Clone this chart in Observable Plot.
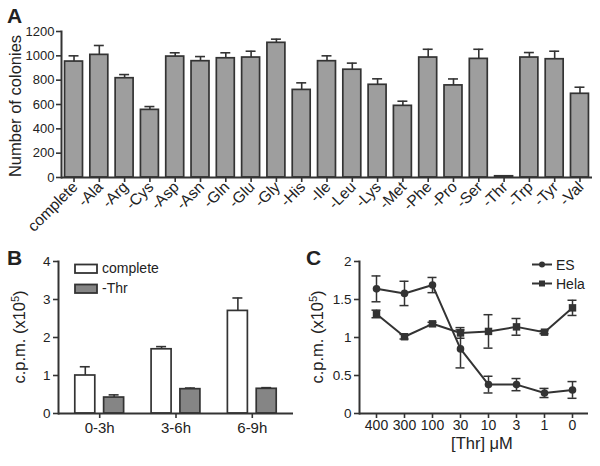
<!DOCTYPE html>
<html>
<head>
<meta charset="utf-8">
<script src="https://cdn.jsdelivr.net/npm/d3@7"></script>
<script src="https://cdn.jsdelivr.net/npm/@observablehq/plot@0.6"></script>
<style>
  html, body { margin: 0; padding: 0; background: #fff; }
  #fig { position: relative; width: 600px; height: 466px; overflow: hidden;
         font-family: "Liberation Sans", Arial, Helvetica, sans-serif; color: #222; }
  #fig > div, #fig > svg { position: absolute; }
</style>
</head>
<body>
<div id="fig">
  <div id="pa" style="left:0;top:0"></div>
  <div id="pb" style="left:0;top:245px"></div>
  <div id="pc" style="left:300px;top:245px"></div>
  <svg id="overlay" width="600" height="466" style="left:0;top:0;pointer-events:none"
       font-family="Liberation Sans, Arial, Helvetica, sans-serif" fill="#222">
    <text x="7" y="23" font-size="21" font-weight="bold">A</text>
    <text x="7" y="265" font-size="21" font-weight="bold">B</text>
    <text x="306" y="265" font-size="21" font-weight="bold">C</text>
    <text transform="translate(21,106) rotate(-90)" text-anchor="middle" font-size="16.5">Number of colonies</text>
    <text transform="translate(25,337) rotate(-90)" text-anchor="middle" font-size="16.5">c.p.m. (x10<tspan font-size="11" dy="-6">5</tspan><tspan dy="6">)</tspan></text>
    <text transform="translate(323,337) rotate(-90)" text-anchor="middle" font-size="16.5">c.p.m. (x10<tspan font-size="11" dy="-6">5</tspan><tspan dy="6">)</tspan></text>
    <text x="482" y="449" text-anchor="middle" font-size="16.5">[Thr] μM</text>
    <!-- legend B -->
    <rect x="75" y="264.5" width="22" height="8.5" fill="#fff" stroke="#333" stroke-width="1.8"></rect>
    <text x="102" y="273" font-size="14">complete</text>
    <rect x="75" y="284.5" width="22" height="8.5" fill="#858585" stroke="#333" stroke-width="1.8"></rect>
    <text x="102" y="293" font-size="14">-Thr</text>
    <!-- legend C -->
    <line x1="532" x2="552" y1="264.5" y2="264.5" stroke="#333" stroke-width="2"></line>
    <circle cx="542" cy="264.5" r="3" fill="#333"></circle>
    <text x="556" y="269.5" font-size="14">ES</text>
    <line x1="532" x2="552" y1="283.5" y2="283.5" stroke="#333" stroke-width="2"></line>
    <rect x="539" y="280.5" width="6" height="6" fill="#333"></rect>
    <text x="556" y="288.5" font-size="14">Hela</text>
  </svg>
</div>
<script>
// ---------- Panel A data ----------
const aaCategories = ["complete","-Ala","-Arg","-Cys","-Asp","-Asn","-Gln","-Glu","-Gly","-His",
  "-Ile","-Leu","-Lys","-Met","-Phe","-Pro","-Ser","-Thr","-Trp","-Tyr","-Val"];
const colonies = [953,1008,816,556,994,956,980,986,1107,720,956,886,762,589,986,757,975,10,986,972,688];
const coloniesErr = [47,77,30,27,31,38,45,52,30,58,44,54,49,38,68,53,79,4,41,66,54];
const aTicks = [0,200,400,600,800,1000,1200];

// ---------- Panel B data ----------
const periods = ["0-3h","3-6h","6-9h"];
const completeCpm = [1.00,1.69,2.70];
const completeErr = [0.23,0.07,0.34];
const thrCpm = [0.42,0.64,0.65];
const thrErr = [0.07,0.03,0.03];
const bTicks = [0,1,2,3,4];

// ---------- Panel C data ----------
const thrConc = ["400","300","100","30","10","3","1","0"];
const esCpm = [1.64,1.58,1.69,0.85,0.38,0.38,0.27,0.31];
const esErr = [0.17,0.16,0.10,0.25,0.11,0.08,0.06,0.11];
const helaCpm = [1.31,1.01,1.18,1.06,1.08,1.14,1.07,1.39];
const helaErr = [0.05,0.03,0.02,0.07,0.22,0.11,0.02,0.10];
const cTicks = [0,0.5,1,1.5,2];

const FONT = "Liberation Sans, Arial, Helvetica, sans-serif";
const INK = "#333";
const plain = d => String(d);

// ---------- Panel A ----------
const dataA = aaCategories.map((c, i) => ({cat: c, v: colonies[i], e: coloniesErr[i]}));
const plotA = Plot.plot({
  width: 600, height: 240,
  marginLeft: 61, marginRight: 8, marginTop: 31, marginBottom: 63,
  style: {fontFamily: FONT, color: "#222", background: "transparent", overflow: "visible"},
  x: {type: "band", domain: aaCategories, paddingInner: 0.29, paddingOuter: 0.14, round: false, label: null},
  y: {domain: [0, 1200], label: null},
  marks: [
    Plot.ruleX(dataA, {x: "cat", y1: "v", y2: d => d.v + d.e, stroke: INK, strokeWidth: 1.6}),
    Plot.tickY(dataA, {x: "cat", y: d => d.v + d.e, stroke: INK, strokeWidth: 1.6, insetLeft: 4, insetRight: 4}),
    Plot.barY(dataA, {x: "cat", y: "v", fill: "#9e9e9e", stroke: INK, strokeWidth: 1.7}),
    Plot.axisY({ticks: aTicks, tickFormat: plain, tickSize: 5, tickPadding: 2, fontSize: 13, stroke: INK, strokeWidth: 1.6, label: null}),
    Plot.axisX({tickSize: 5, tickFormat: () => "", stroke: INK, strokeWidth: 1.6, label: null}),
    Plot.text(aaCategories, {x: d => d, text: d => d, frameAnchor: "bottom", dy: 7, dx: 1, rotate: -45,
      textAnchor: "end", lineAnchor: "middle", fontSize: 15.5, fill: "#222"}),
    Plot.ruleY([0], {stroke: INK, strokeWidth: 2}),
    Plot.frame({anchor: "left", stroke: INK, strokeWidth: 2})
  ]
});
document.getElementById("pa").appendChild(plotA);

// ---------- Panel B ----------
const dataB = periods.map((p, i) => ({p, c: completeCpm[i], ce: completeErr[i], t: thrCpm[i], te: thrErr[i]}));
const bW = 300, bML = 58, bMR = 7, pIn = 0.36, pOut = 0.22;
const bStep = (bW - bML - bMR) / (periods.length - pIn + 2 * pOut);
const bBand = bStep * (1 - pIn);
const barW = 20;
const off = bBand / 2 - barW / 2;
const plotB = Plot.plot({
  width: bW, height: 221,
  marginLeft: bML, marginRight: bMR, marginTop: 16, marginBottom: 53,
  style: {fontFamily: FONT, color: "#222", background: "transparent", overflow: "visible"},
  x: {type: "band", domain: periods, paddingInner: pIn, paddingOuter: pOut, round: false, label: null},
  y: {domain: [0, 4], label: null},
  marks: [
    Plot.ruleX(dataB, {x: "p", y1: "c", y2: d => d.c + d.ce, dx: -off, stroke: INK, strokeWidth: 1.6}),
    Plot.tickY(dataB, {x: "p", y: d => d.c + d.ce, stroke: INK, strokeWidth: 1.6, insetLeft: 5, insetRight: bBand - 15}),
    Plot.barY(dataB, {x: "p", y: "c", fill: "#fff", stroke: INK, strokeWidth: 1.7, insetRight: bBand - barW}),
    Plot.ruleX(dataB, {x: "p", y1: "t", y2: d => d.t + d.te, dx: off, stroke: INK, strokeWidth: 1.6}),
    Plot.tickY(dataB, {x: "p", y: d => d.t + d.te, stroke: INK, strokeWidth: 1.6, insetLeft: bBand - 15, insetRight: 5}),
    Plot.barY(dataB, {x: "p", y: "t", fill: "#858585", stroke: INK, strokeWidth: 1.7, insetLeft: bBand - barW}),
    Plot.axisY({ticks: bTicks, tickFormat: plain, tickSize: 5, tickPadding: 3, fontSize: 13.5, stroke: INK, strokeWidth: 1.6, label: null}),
    Plot.axisX({tickSize: 5, tickPadding: 4, fontSize: 15, stroke: INK, strokeWidth: 1.6, label: null}),
    Plot.ruleY([0], {stroke: INK, strokeWidth: 2}),
    Plot.frame({anchor: "left", stroke: INK, strokeWidth: 2})
  ]
});
document.getElementById("pb").appendChild(plotB);

// ---------- Panel C ----------
const esData = thrConc.map((x, i) => ({x, v: esCpm[i], e: esErr[i]}));
const helaData = thrConc.map((x, i) => ({x, v: helaCpm[i], e: helaErr[i]}));
function errMarks(data) {
  return [
    Plot.ruleX(data, {x: "x", y1: d => d.v - d.e, y2: d => d.v + d.e, stroke: INK, strokeWidth: 1.5}),
    Plot.ruleY(data, {x1: "x", x2: "x", y: d => d.v + d.e, stroke: INK, strokeWidth: 1.5, insetLeft: -4.5, insetRight: -4.5}),
    Plot.ruleY(data, {x1: "x", x2: "x", y: d => d.v - d.e, stroke: INK, strokeWidth: 1.5, insetLeft: -4.5, insetRight: -4.5})
  ];
}
const plotC = Plot.plot({
  width: 300, height: 221,
  marginLeft: 59, marginRight: 12, marginTop: 16, marginBottom: 53,
  style: {fontFamily: FONT, color: "#222", background: "transparent", overflow: "visible"},
  x: {type: "point", domain: thrConc, padding: 0.52, label: null},
  y: {domain: [0, 2], label: null},
  marks: [
    ...errMarks(esData),
    ...errMarks(helaData),
    Plot.line(esData, {x: "x", y: "v", stroke: INK, strokeWidth: 2}),
    Plot.line(helaData, {x: "x", y: "v", stroke: INK, strokeWidth: 2}),
    Plot.dot(esData, {x: "x", y: "v", r: 3.8, fill: INK, stroke: "none"}),
    Plot.dot(helaData, {x: "x", y: "v", r: 4.2, symbol: "square", fill: INK, stroke: "none"}),
    Plot.axisY({ticks: cTicks, tickFormat: plain, tickSize: 5, tickPadding: 3, fontSize: 13.5, stroke: INK, strokeWidth: 1.6, label: null}),
    Plot.axisX({tickSize: 5, tickPadding: 2, fontSize: 14, stroke: INK, strokeWidth: 1.6, label: null}),
    Plot.ruleY([0], {stroke: INK, strokeWidth: 2}),
    Plot.frame({anchor: "left", stroke: INK, strokeWidth: 2})
  ]
});
document.getElementById("pc").appendChild(plotC);
</script>
</body>
</html>
